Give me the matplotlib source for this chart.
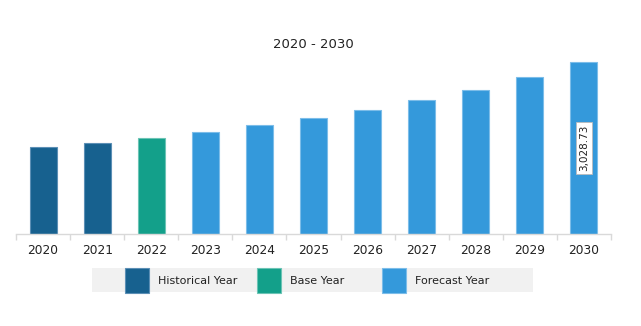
import matplotlib.pyplot as plt
from matplotlib.patches import Rectangle
import numpy as np

years = ['2020', '2021', '2022', '2023', '2024', '2025', '2026', '2027', '2028', '2029', '2030']
values = [1532, 1608, 1696, 1796, 1914, 2043, 2189, 2354, 2541, 2765, 3028.73]
kinds = ['hist', 'hist', 'base', 'fc', 'fc', 'fc', 'fc', 'fc', 'fc', 'fc', 'fc']

colors = {'hist': '#17618F', 'base': '#13A08A', 'fc': '#3499DB'}
edges = {'hist': '#5C8FB5', 'base': '#6CC4B5', 'fc': '#7CBDE9'}
legend_names = [('hist', 'Historical Year'), ('base', 'Base Year'), ('fc', 'Forecast Year')]

W, H = 641, 326
fig = plt.figure(figsize=(W / 100, H / 100), dpi=100)
# axes placed in pixel terms
ax = fig.add_axes([16 / W, (H - 234) / H, (611 - 16) / W, (234 - 55) / H])

x = np.arange(len(years))
ax.bar(x, values, width=0.5,
       color=[colors[k] for k in kinds],
       edgecolor=[edges[k] for k in kinds], linewidth=0.8)

ax.set_xlim(-0.5, len(years) - 0.5)
ax.set_ylim(0, values[-1] * (234 - 55) / 172)

for s in ['top', 'right', 'left']:
    ax.spines[s].set_visible(False)
ax.spines['bottom'].set_color('#D9D9D9')
ax.spines['bottom'].set_linewidth(1)
ax.set_yticks([])
ax.set_xticks(x)
ax.set_xticklabels(years, fontsize=8.8, color='#222222')
ax.tick_params(axis='x', which='major', length=0, pad=7)
ax.set_xticks(np.arange(-0.5, len(years), 1), minor=True)
ax.tick_params(axis='x', which='minor', length=4, color='#D9D9D9', width=1)

# value label on last bar
ax.text(x[-1], values[-1] * 0.5, '{:,.2f}'.format(values[-1]), rotation=90,
        ha='center', va='center', fontsize=7.5, color='#222222',
        bbox=dict(boxstyle='square,pad=0.25', fc='white', ec='#BBBBBB', lw=0.6))

fig.text(313 / W, 1 - 45 / H, '2020 - 2030', ha='center', va='center',
         fontsize=9.5, color='#222222')

# legend strip
fig.patches.append(Rectangle((92 / W, 1 - 292 / H), (533 - 92) / W, 24 / H,
                             transform=fig.transFigure, fc='#F1F1F1', ec='none'))
leg_x = [125, 257, 382]
for (k, name), lx in zip(legend_names, leg_x):
    fig.patches.append(Rectangle((lx / W, 1 - 293 / H), 24 / W, 25 / H,
                                 transform=fig.transFigure, fc=colors[k],
                                 ec=edges[k], lw=0.8))
    fig.text((lx + 33) / W, 1 - 281 / H, name, ha='left', va='center',
             fontsize=8, color='#222222')

fig.savefig('out.png', dpi=100)
